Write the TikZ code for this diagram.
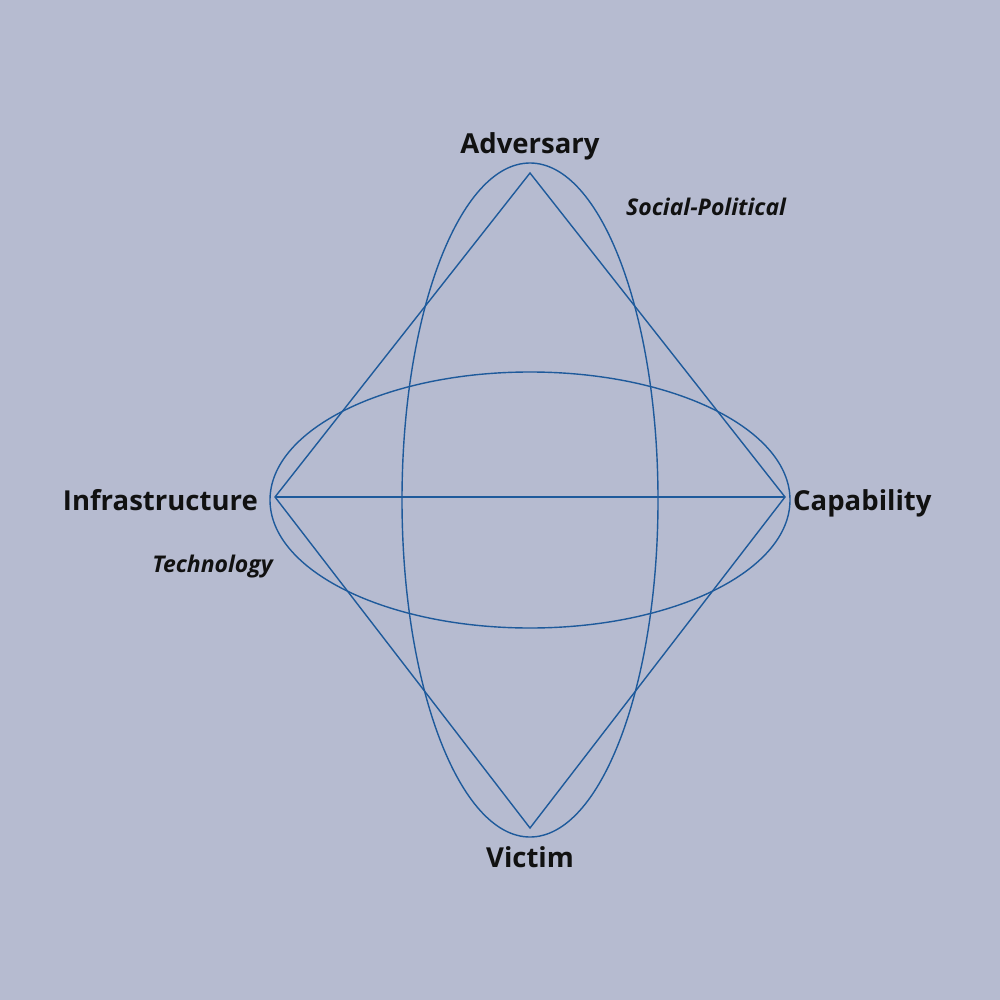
\documentclass[tikz,border=0pt]{standalone}
\usepackage{fontspec}
\setmainfont{Open Sans}
\newfontfamily\labfont{Open Sans}
\definecolor{bg}{HTML}{B6BBD0}
\definecolor{ln}{HTML}{1E5A9B}
\definecolor{tx}{HTML}{111111}
\begin{document}
\begin{tikzpicture}[x=1pt,y=-1pt,
  edge/.style={draw=ln,line width=1.4pt},
  vlabel/.style={text=tx,font=\labfont\bfseries\fontsize{27.5}{30}\selectfont,inner sep=0pt},
  ilabel/.style={text=tx,font=\labfont\bfseries\itshape\fontsize{23}{26}\selectfont,inner sep=0pt}]
\fill[bg] (0,0) rectangle (1000,1000);
\useasboundingbox (0,0) rectangle (1000,1000);
\coordinate (A) at (530,173);
\coordinate (C) at (785,497);
\coordinate (V) at (530,828);
\coordinate (I) at (275,497);
\draw[edge] (530,500) ellipse [x radius=128, y radius=337];
\draw[edge] (530,500) ellipse [x radius=260, y radius=128];
\draw[edge] (A) -- (C) -- (V) -- (I) -- cycle;
\draw[edge] (I) -- (C);
\node[vlabel] (adv) at (530,146) {Adversary};
\node[vlabel,anchor=west] (cap) at (793,503) {Capability};
\node[vlabel,anchor=east] (inf) at (258,500) {Infrastructure};
\node[vlabel] (vic) at (530,857) {Victim};
\node[ilabel,anchor=west] (soc) at (626,207) {Social-Political};
\node[ilabel,anchor=east] (tech) at (273,567) {Technology};
\end{tikzpicture}
\end{document}
